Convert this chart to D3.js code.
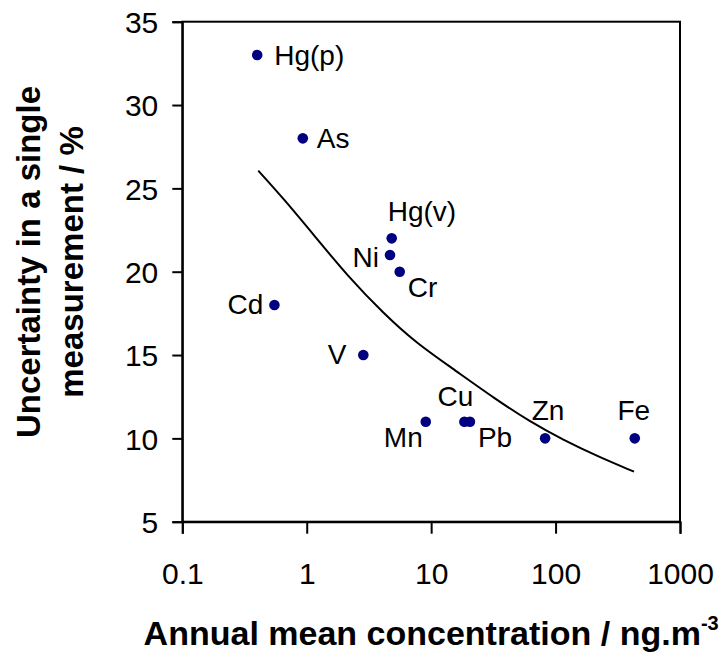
<!DOCTYPE html>
<html>
<head>
<meta charset="utf-8">
<script src="https://cdn.jsdelivr.net/npm/d3@7"></script>
<style>
  html, body { margin: 0; padding: 0; background: #fff; }
  svg { display: block; font-family: "Liberation Sans", Arial, sans-serif; }
</style>
</head>
<body>
<svg id="chart" width="725" height="657"></svg>
<script>
// ---- data ----
const elements = ["Hg(p)", "As", "Cd", "V", "Hg(v)", "Ni", "Cr", "Mn", "Cu", "Pb", "Zn", "Fe"];
const concentration = [0.40, 0.93, 0.55, 2.85, 4.82, 4.67, 5.59, 9.05, 18.5, 20.5, 82.4, 433];
const uncertainty = [33, 28, 18, 15, 22, 21, 20, 11, 11, 11, 10, 10];

const fitX = [0.408, 0.649, 1.20, 2.10, 4.13, 7.66, 14.2, 33.7, 62.4, 115.6, 214, 427];
const fitY = [26.06, 24.4, 22.0, 19.8, 17.5, 15.7, 14.3, 12.3, 11.0, 9.9, 8.95, 8.0];

const xTicks = [0.1, 1, 10, 100, 1000];
const xTickLabels = ["0.1", "1", "10", "100", "1000"];
const yTicks = [5, 10, 15, 20, 25, 30, 35];

// ---- label placement (layout, not data) ----
const labelLayout = {
  "Hg(p)": { anchor: "start", dx: 17, dy: 10 },
  "As":    { anchor: "start", dx: 14, dy: 10 },
  "Cd":    { anchor: "end",   dx: -11, dy: 9 },
  "V":     { anchor: "end",   dx: -17, dy: 9 },
  "Hg(v)": { anchor: "start", dx: -4, dy: -17 },
  "Ni":    { anchor: "end",   dx: -11, dy: 12 },
  "Cr":    { anchor: "start", dx: 8, dy: 25 },
  "Mn":    { anchor: "end",   dx: -3, dy: 25 },
  "Cu":    { anchor: "end",   dx: 9, dy: -16 },
  "Pb":    { anchor: "start", dx: 8, dy: 25 },
  "Zn":    { anchor: "middle", dx: 3, dy: -18 },
  "Fe":    { anchor: "middle", dx: -1, dy: -18 }
};

const svg = d3.select("#chart");
const pLeft = 182.3, pRight = 680, pTop = 21.7, pBottom = 521.7;

const x = d3.scaleLog().domain([0.1, 1000]).range([pLeft, pRight]);
const y = d3.scaleLinear().domain([5, 35]).range([pBottom, pTop]);

// frame (top and right borders)
svg.append("rect")
  .attr("x", pLeft).attr("y", pTop)
  .attr("width", pRight - pLeft).attr("height", pBottom - pTop)
  .attr("fill", "none").attr("stroke", "#000").attr("stroke-width", 2);

// y axis
const yAxis = d3.axisLeft(y).tickValues(yTicks).tickSize(10).tickPadding(14).tickFormat(d3.format("d"));
const gy = svg.append("g").attr("transform", `translate(${pLeft},0)`).call(yAxis);
gy.select(".domain").attr("stroke-width", 2);
gy.selectAll(".tick line").attr("stroke-width", 2);
gy.selectAll(".tick text").attr("font-size", 30).attr("fill", "#000")
  .attr("font-family", "'Liberation Sans', Arial, sans-serif").attr("dy", "0.36em");

// x axis
const xAxis = d3.axisBottom(x).tickValues(xTicks).tickSize(12).tickPadding(0)
  .tickFormat((d, i) => xTickLabels[i]);
const gx = svg.append("g").attr("transform", `translate(0,${pBottom})`).call(xAxis);
gx.select(".domain").attr("stroke-width", 2);
gx.selectAll(".tick line").attr("stroke-width", 2);
gx.selectAll(".tick text").attr("font-size", 30).attr("fill", "#000")
  .attr("font-family", "'Liberation Sans', Arial, sans-serif")
  .attr("y", 62).attr("dy", 0);

// fitted curve
const line = d3.line()
  .x((d, i) => x(fitX[i]))
  .y((d, i) => y(fitY[i]))
  .curve(d3.curveBasis);
svg.append("path")
  .datum(fitX)
  .attr("d", line)
  .attr("fill", "none")
  .attr("stroke", "#000")
  .attr("stroke-width", 2);

// points
const pts = elements.map((e, i) => ({ name: e, cx: concentration[i], cy: uncertainty[i] }));
svg.append("g").selectAll("circle").data(pts).join("circle")
  .attr("cx", d => x(d.cx)).attr("cy", d => y(d.cy))
  .attr("r", 5.3).attr("fill", "#000080");

// labels
svg.append("g").selectAll("text").data(pts).join("text")
  .attr("x", d => x(d.cx) + labelLayout[d.name].dx)
  .attr("y", d => y(d.cy) + labelLayout[d.name].dy)
  .attr("text-anchor", d => labelLayout[d.name].anchor)
  .attr("font-size", 28)
  .attr("fill", "#000")
  .text(d => d.name);

// x title
const xt = svg.append("text")
  .attr("x", (pLeft + pRight) / 2).attr("y", 645)
  .attr("text-anchor", "middle")
  .attr("font-size", 34).attr("font-weight", "bold");
xt.append("tspan").text("Annual mean concentration / ng.m");
xt.append("tspan").attr("font-size", 20).attr("dy", -15).text("-3");

// y title (two lines)
const yt = svg.append("text")
  .attr("transform", "translate(0,262) rotate(-90)")
  .attr("text-anchor", "middle")
  .attr("font-size", 33).attr("font-weight", "bold");
yt.append("tspan").attr("x", 0).attr("y", 40).text("Uncertainty in a single");
yt.append("tspan").attr("x", 0).attr("y", 83).text("measurement / %");
</script>
</body>
</html>
